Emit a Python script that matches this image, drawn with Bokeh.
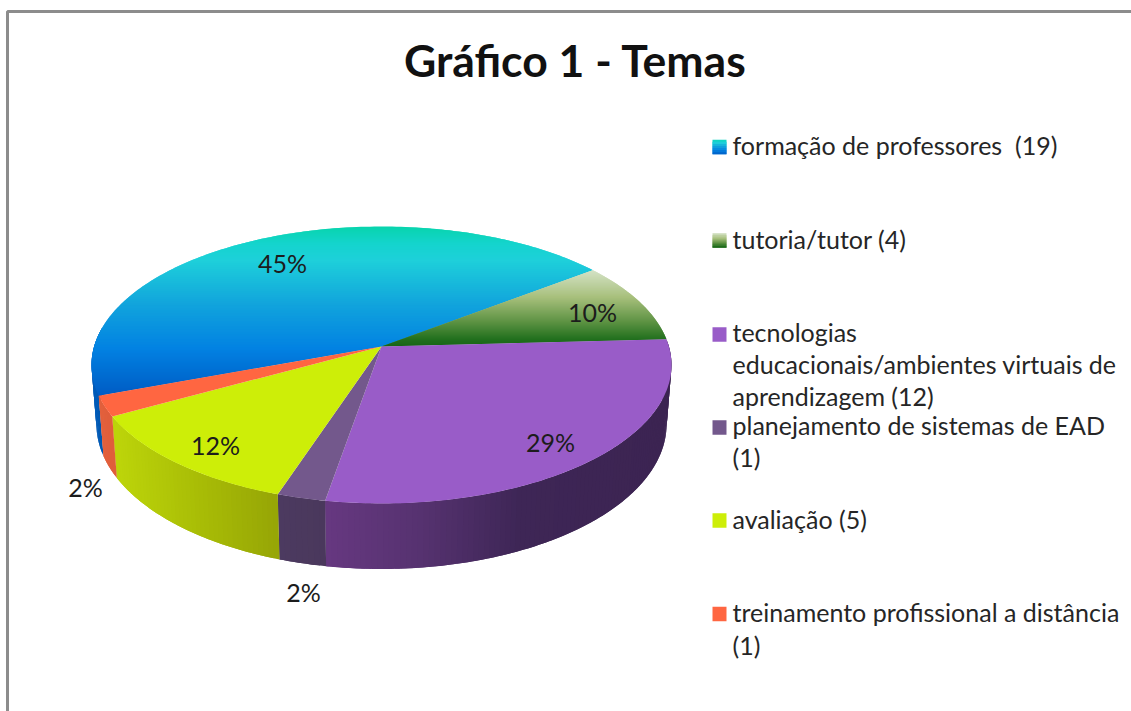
import numpy as np
from bokeh.plotting import figure
from bokeh.models import Range1d
from bokeh.core.properties import value
from bokeh.embed import file_html
from bokeh.resources import INLINE

# ---- data ----
title = "Gráfico 1 - Temas"
counts = [19, 4, 12, 1, 5, 1]
legend_lines = [
    ["formação de professores\u00a0\u00a0(19)"],
    ["tutoria/tutor (4)"],
    ["tecnologias", "educacionais/ambientes virtuais de", "aprendizagem (12)"],
    ["planejamento de sistemas de EAD", "(1)"],
    ["avaliação (5)"],
    ["treinamento profissional a distância", "(1)"],
]

# ---- layout (page pixels) ----
W, H = 1131, 711
CX, CY = 381.0, 346.0          # pie apex on screen
R, A, K = 287.4, 136.0, 0.1335 # radius, vertical scale, perspective
START = 159.8                  # degrees, clockwise on screen
BOT_SX, BOT_SY, BOT_D, BOT_REF = 0.983, 0.046, 60.5, 394.0
TEXT_DY = -2
label_xy = [(282, 264), (592, 313), (550, 443), (303, 593), (215, 446), (85, 488)]
legend_swatch_y = [146.5, 240, 334, 427, 520, 613.5]
legend_line_y = [[146], [240], [333, 365, 397], [426, 458], [520], [613, 646]]

# ---- colours ----
def stops(*pairs):
    return np.array([p[0] for p in pairs], float), np.array([p[1] for p in pairs], float)

top_solid = [None, None, (153, 92, 200), (115, 88, 140), (205, 238, 8), (255, 102, 65)]
blue_top = stops((0.0, (8, 212, 172)), (0.10, (20, 212, 205)), (0.2, (30, 208, 218)),
                 (0.45, (18, 165, 220)), (0.72, (2, 130, 226)), (1.0, (0, 92, 196)))
green_top = stops((0.0, (212, 226, 198)), (0.35, (168, 192, 125)), (0.65, (100, 150, 72)),
                  (0.9, (35, 112, 30)), (1.0, (22, 100, 22)))
wall = [
    stops((90, (0, 92, 185)), (110, (0, 80, 165))),
    None,
    stops((325, (102, 56, 128)), (420, (86, 50, 112)), (520, (62, 38, 86)), (670, (60, 36, 82))),
    stops((277, (76, 58, 96)), (325, (74, 56, 92))),
    stops((116, (188, 212, 10)), (200, (168, 188, 6)), (277, (150, 165, 6))),
    stops((100, (226, 96, 60)), (118, (222, 92, 58))),
]

def hexc(c):
    return "#%02x%02x%02x" % tuple(int(round(v)) for v in c)

def sample(st, t):
    xs, cs = st
    return hexc([np.interp(t, xs, cs[:, i]) for i in range(3)])

def top_xy(deg):
    th = np.radians(deg)
    s, c = np.sin(th), np.cos(th)
    w = 1 - K * s
    return CX + R * c / w, CY + A * s / w

def bot_xy(deg):
    x, y = top_xy(deg)
    return CX + BOT_SX * (x - CX), y + BOT_D + BOT_SY * (y - BOT_REF)

def clip_band(poly, y0, y1):
    def clip(pts, keep, cross):
        out = []
        for i in range(len(pts)):
            a, b = pts[i], pts[(i + 1) % len(pts)]
            ka, kb = keep(a), keep(b)
            if ka:
                out.append(a)
            if ka != kb:
                t = (cross - a[1]) / (b[1] - a[1])
                out.append((a[0] + t * (b[0] - a[0]), cross))
        return out
    pts = clip(poly, lambda p: p[1] >= y0, y0)
    if pts:
        pts = clip(pts, lambda p: p[1] <= y1, y1)
    return pts

total = sum(counts)
sweeps = [c / total * 360 for c in counts]
starts = [START + sum(sweeps[:i]) for i in range(len(counts))]

p = figure(width=W, height=H, x_range=Range1d(0, W), y_range=Range1d(H, 0),
           output_backend="svg", toolbar_location=None, min_border=0,
           outline_line_color=None, background_fill_color="white",
           border_fill_color="white")
p.xaxis.visible = False
p.yaxis.visible = False
p.grid.visible = False

# frame
p.line([7, 7, W], [H, 11, 11], line_color="#8c8c8c", line_width=3)

# walls: each strip runs on under the next one, so no seams show
wx, wy, wc = [], [], []
for i, (s0, sw) in enumerate(zip(starts, sweeps)):
    if wall[i] is None:
        continue
    a0 = s0 % 360
    if a0 > 300:
        a0 -= 360
    a1 = min(a0 + sw, 188)
    n = max(1, int((a1 - a0) / 1.0))
    ang = np.linspace(a0, a1, n + 1)
    step = ang[1] - ang[0]
    for u in ang[:-1]:
        v = min(u + 2 * step, a1)
        sub = np.linspace(u, v, 4)
        ring = [top_xy(a) for a in sub] + [bot_xy(a) for a in sub[::-1]]
        wx.append([q[0] for q in ring]); wy.append([q[1] for q in ring])
        wc.append(sample(wall[i], top_xy(u + step / 2)[0]))
p.patches(wx, wy, fill_color=wc, line_color=None)

# top face
tx, ty, tc = [], [], []
for i, (s0, sw) in enumerate(zip(starts, sweeps)):
    ang = np.linspace(s0, s0 + sw, max(3, int(sw)) + 1)
    poly = [(CX, CY)] + [top_xy(a) for a in ang]
    grad = {0: blue_top, 1: green_top}.get(i)
    if grad is None:
        tx.append([q[0] for q in poly]); ty.append([q[1] for q in poly])
        tc.append(hexc(top_solid[i]))
        continue
    ylo = min(q[1] for q in poly); yhi = max(q[1] for q in poly)
    y = np.floor(ylo)
    while y < yhi:
        pts = clip_band(poly, y, min(y + 2, yhi))
        if len(pts) >= 3:
            tx.append([q[0] for q in pts]); ty.append([q[1] for q in pts])
            tc.append(sample(grad, (y + 0.5 - ylo) / (yhi - ylo)))
        y += 1
p.patches(tx, ty, fill_color=tc, line_color=None)

# title
p.text([575], [59], text=[title], text_font=value("Lato"), text_font_style="bold",
       text_font_size="44.5px", text_align="center", text_baseline="middle", text_color="#111111")

# data labels
labels = ["%d%%" % round(c / total * 100) for c in counts]
p.text([q[0] for q in label_xy], [q[1] + TEXT_DY for q in label_xy], text=labels, text_font=value("Lato"),
       text_font_size="25px", text_align="center", text_baseline="middle", text_color="#1c1c1c")

# legend swatches
SW_X0, SW_X1, SW_H = 712, 726, 14.5
qx0, qx1, qt, qb, qc = [], [], [], [], []
for i, yc in enumerate(legend_swatch_y):
    grad = {0: blue_top, 1: green_top}.get(i)
    if grad is None:
        qx0.append(SW_X0); qx1.append(SW_X1); qt.append(yc - SW_H / 2); qb.append(yc + SW_H / 2)
        qc.append(hexc(top_solid[i]))
    else:
        edges = np.linspace(yc - SW_H / 2, yc + SW_H / 2, 8)
        for k in range(7):
            qx0.append(SW_X0); qx1.append(SW_X1); qt.append(edges[k]); qb.append(edges[min(k + 2, 7)])
            qc.append(sample(grad, (k + 0.5) / 7))
p.quad(left=qx0, right=qx1, top=qt, bottom=qb, fill_color=qc, line_color=None)

# legend texts
lx, ly, lt = [], [], []
for lines, ys in zip(legend_lines, legend_line_y):
    for t, y in zip(lines, ys):
        lx.append(732); ly.append(y + TEXT_DY); lt.append(t)
p.text(lx, ly, text=lt, text_font=value("Lato"), text_font_size="25px", text_align="left",
       text_baseline="middle", text_color="#262626")

open("out.html", "w").write(file_html(p, INLINE))
